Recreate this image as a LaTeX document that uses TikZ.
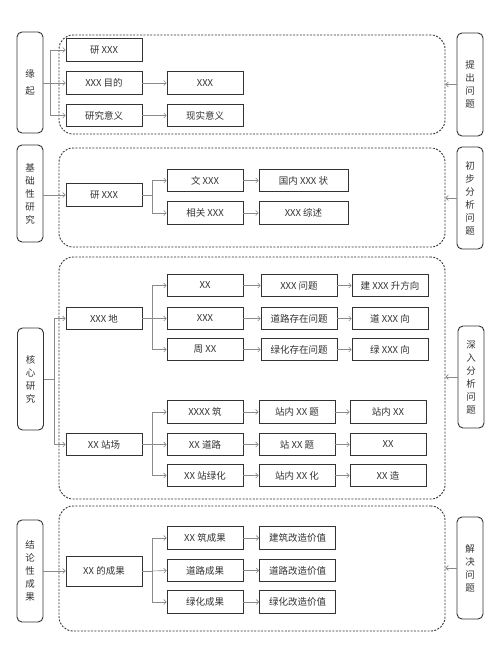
\documentclass[tikz,border=0pt]{standalone}
\usepackage{fontspec}
\setmainfont{Noto Sans CJK SC}
\usetikzlibrary{arrows.meta}
\definecolor{linec}{HTML}{8A8A8A}
\definecolor{boxc}{HTML}{333333}
\definecolor{txtc}{HTML}{333333}
\begin{document}
\begin{tikzpicture}[x=1pt,y=-1pt,
  every node/.style={text=txtc,font=\fontsize{9.5}{11}\selectfont,inner sep=0pt},
  bx/.style={draw=boxc,line width=0.8pt,minimum width=76,minimum height=22.5},
  wbx/.style={bx,minimum width=89},
  side/.style={draw=boxc,line width=0.9pt,rounded corners=5pt,minimum width=26,align=center,font=\fontsize{9.5}{13}\selectfont},
  sidewide/.style={side,font=\fontsize{9.5}{16.5}\selectfont},
  dbox/.style={draw=boxc,line width=0.9pt,dash pattern=on 2pt off 1.4pt,rounded corners=14pt,minimum width=386},
  arr/.style={draw=linec,line width=0.6pt,-{Straight Barb[length=2.5pt,width=5pt]}},
  ln/.style={draw=linec,line width=0.6pt}
]
\useasboundingbox (0,0) rectangle (500,653);
\fill[white] (0,0) rectangle (500,653);

% ---------- Section 1 ----------
\node[dbox,minimum height=99] (D1) at (252,84.5) {};
\node[sidewide,minimum height=101] (L1) at (30,82.5) {缘\\起};
\node[side,minimum height=103] (R1) at (470,84.5) {提\\出\\问\\题};
\node[bx] (a1) at (104,50) {研 XXX};
\node[bx] (a2) at (104,83) {XXX 目的};
\node[bx] (a3) at (104,115.5) {研究意义};
\node[bx] (b2) at (205,83) {XXX};
\node[bx] (b3) at (205,115.5) {现实意义};
\coordinate (f1) at (50,83);
\draw[ln] (L1.east |- f1) -- (f1);
\draw[arr] (f1) |- (a1.west);
\draw[arr] (f1) -- (a2.west);
\draw[arr] (f1) |- (a3.west);
\draw[arr] (a2) -- (b2);
\draw[arr] (a3) -- (b3);
\draw[arr] (R1.west) -- (R1.west -| D1.east);

% ---------- Section 2 ----------
\node[dbox,minimum height=99] (D2) at (252,197.5) {};
\node[side,minimum height=97] (L2) at (30,193.5) {基\\础\\性\\研\\究};
\node[side,minimum height=102] (R2) at (470,198) {初\\步\\分\\析\\问\\题};
\node[bx] (c1) at (104,195) {研 XXX};
\node[bx] (c2) at (205,180.5) {文 XXX};
\node[bx] (c3) at (205,213) {相关 XXX};
\node[wbx] (c4) at (303.5,180.5) {国内 XXX 状};
\node[wbx] (c5) at (303.5,213) {XXX 综述};
\draw[arr] (L2.east |- c1) -- (c1.west);
\coordinate (f2) at (152,195);
\draw[ln] (c1.east) -- (f2);
\draw[arr] (f2) |- (c2.west);
\draw[arr] (f2) |- (c3.west);
\draw[arr] (c2) -- (c4);
\draw[arr] (c3) -- (c5);
\draw[arr] (R2.west) -- (R2.west -| D2.east);

% ---------- Section 3 ----------
\node[dbox,minimum height=242] (D3) at (252,378) {};
\node[side,minimum height=102] (L3) at (30.5,379) {核\\心\\研\\究};
\node[side,minimum height=102] (R3) at (471,377) {深\\入\\分\\析\\问\\题};
\node[bx] (e1) at (104,318.5) {XXX 地};
\node[bx] (e2) at (104,444.5) {XX 站场};
\node[bx] (p1) at (205,285.5) {XX};
\node[bx] (p2) at (205,318.5) {XXX};
\node[bx] (p3) at (205,349.5) {周 XX};
\node[bx] (q1) at (299,285.5) {XXX 问题};
\node[bx] (q2) at (299,318.5) {道路存在问题};
\node[bx] (q3) at (299,349.5) {绿化存在问题};
\node[bx] (r1) at (390,285.5) {建 XXX 升方向};
\node[bx] (r2) at (390,318.5) {道 XXX 向};
\node[bx] (r3) at (390,349.5) {绿 XXX 向};
\node[bx] (p4) at (205,412) {XXXX 筑};
\node[bx] (p5) at (205,444.5) {XX 道路};
\node[bx] (p6) at (205,475.5) {XX 站绿化};
\node[bx] (q4) at (297,412) {站内 XX 题};
\node[bx] (q5) at (297,444.5) {站 XX 题};
\node[bx] (q6) at (297,475.5) {站内 XX 化};
\node[bx] (r4) at (388,412) {站内 XX};
\node[bx] (r5) at (388,444.5) {XX};
\node[bx] (r6) at (388,475.5) {XX 造};
\coordinate (f3) at (54,379);
\draw[ln] (L3.east |- f3) -- (f3);
\draw[arr] (f3) |- (e1.west);
\draw[arr] (f3) |- (e2.west);
\coordinate (f4) at (152,318.5);
\draw[ln] (e1.east) -- (f4);
\draw[arr] (f4) |- (p1.west);
\draw[arr] (f4) -- (p2.west);
\draw[arr] (f4) |- (p3.west);
\coordinate (f5) at (152,444.5);
\draw[ln] (e2.east) -- (f5);
\draw[arr] (f5) |- (p4.west);
\draw[arr] (f5) -- (p5.west);
\draw[arr] (f5) |- (p6.west);
\foreach \i in {1,...,6} {
  \draw[arr] (p\i) -- (q\i);
  \draw[arr] (q\i) -- (r\i);
}
\draw[arr] (R3.west) -- (R3.west -| D3.east);

% ---------- Section 4 ----------
\node[dbox,minimum height=125] (D4) at (252,568.5) {};
\node[side,minimum height=102] (L4) at (30,571) {结\\论\\性\\成\\果};
\node[side,minimum height=102] (R4) at (470,568) {解\\决\\问\\题};
\node[bx,minimum height=30] (g1) at (104,571) {XX 的成果};
\node[bx] (h1) at (205,538) {XX 筑成果};
\node[bx] (h2) at (205,570.5) {道路成果};
\node[bx] (h3) at (205,602) {绿化成果};
\node[bx] (k1) at (297.5,538) {建筑改造价值};
\node[bx] (k2) at (297.5,570.5) {道路改造价值};
\node[bx] (k3) at (297.5,602) {绿化改造价值};
\draw[arr] (L4.east |- g1) -- (g1.west);
\coordinate (f6) at (152,571);
\draw[ln] (g1.east) -- (f6);
\draw[arr] (f6) |- (h1.west);
\draw[arr] (f6) -- (h2.west);
\draw[arr] (f6) |- (h3.west);
\foreach \i in {1,2,3} {
  \draw[arr] (h\i) -- (k\i);
}
\draw[arr] (R4.west) -- (R4.west -| D4.east);
\end{tikzpicture}
\end{document}
